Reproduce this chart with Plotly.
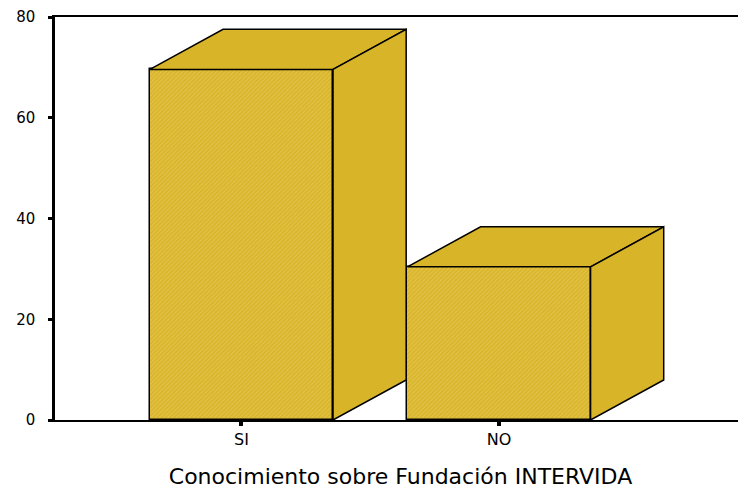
import plotly.graph_objects as go

# ---- data ----
categories = ["SI", "NO"]
values = [69.6, 30.4]
y_ticks = [0, 20, 40, 60, 80]
x_title = "Conocimiento sobre Fundación INTERVIDA"

# ---- styling / geometry (data units) ----
positions = list(range(len(categories)))
bar_width = 0.711
depth_x = 0.284
depth_y = 7.95
face_color = "#D8B428"
light_color = "#ECCF68"
font_family = "DejaVu Sans, Liberation Sans, Arial, sans-serif"

fig = go.Figure()

# front faces
fig.add_trace(go.Bar(
    x=positions, y=values, width=bar_width,
    marker=dict(color=face_color,
                line=dict(color="black", width=1.5),
                pattern=dict(shape="/", fgcolor=light_color, bgcolor=face_color,
                             size=3, solidity=0.45)),
    hoverinfo="skip", showlegend=False,
))

# top and side faces computed from the values
for xc, v in zip(positions, values):
    xl, xr = xc - bar_width / 2, xc + bar_width / 2
    # top face
    fig.add_trace(go.Scatter(
        x=[xl, xr, xr + depth_x, xl + depth_x, xl],
        y=[v, v, v + depth_y, v + depth_y, v],
        mode="lines", fill="toself", fillcolor=face_color,
        line=dict(color="black", width=1.5), hoverinfo="skip", showlegend=False,
    ))
    # side face
    fig.add_trace(go.Scatter(
        x=[xr, xr, xr + depth_x, xr + depth_x, xr],
        y=[0, v, v + depth_y, depth_y, 0],
        mode="lines", fill="toself", fillcolor=face_color,
        line=dict(color="black", width=1.5), hoverinfo="skip", showlegend=False,
    ))

fig.update_layout(
    width=738, height=481,
    margin=dict(l=47, r=0, t=9, b=69),
    paper_bgcolor="white", plot_bgcolor="white",
    font=dict(family=font_family, color="black", size=15),
    bargap=0,
    xaxis=dict(
        range=[-0.724, 1.959], automargin=False,
        tickmode="array", tickvals=positions, ticktext=categories,
        showgrid=False, zeroline=False,
        showline=True, linecolor="black", linewidth=2, mirror=True,
        ticks="outside", ticklen=4, tickwidth=4, tickcolor="black",
        tickfont=dict(size=16),
        title=dict(text=x_title, font=dict(size=22), standoff=28),
    ),
    yaxis=dict(
        range=[0, 80], automargin=False,
        tickmode="array", tickvals=y_ticks, ticktext=[str(t) for t in y_ticks],
        showgrid=False, zeroline=False,
        showline=True, linecolor="black", linewidth=2.5,
        ticks="outside", ticklen=4, tickwidth=3, tickcolor="black",
        ticklabelstandoff=10,
        tickfont=dict(size=15),
    ),
)

fig.write_html("out.html")
